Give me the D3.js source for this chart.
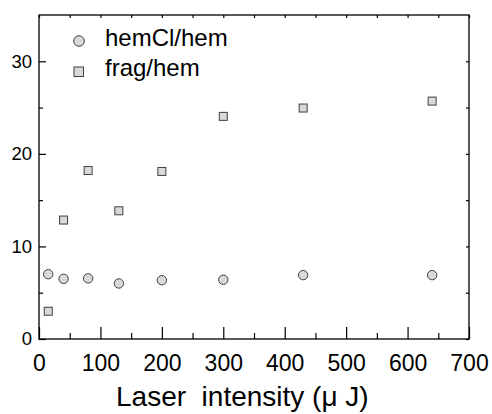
<!DOCTYPE html>
<html>
<head>
<meta charset="utf-8">
<script src="https://cdn.jsdelivr.net/npm/d3@7"></script>
<style>
  html, body { margin: 0; padding: 0; background: #fff; }
  svg { display: block; font-family: "Liberation Sans", Arial, sans-serif; }
  svg text { white-space: pre; }
</style>
</head>
<body>
<svg id="chart" width="492" height="414"></svg>
<script>
// ---- data ----
const intensity = [15, 40, 80, 130, 200, 300, 430, 640];
const hemClHem  = [7.0, 6.5, 6.55, 6.0, 6.35, 6.4, 6.9, 6.9];
const fragHem   = [3.0, 12.85, 18.2, 13.85, 18.1, 24.05, 24.95, 25.7];
const xTicks = [0, 100, 200, 300, 400, 500, 600, 700];
const xMinor = [50, 150, 250, 350, 450, 550, 650];
const yTicks = [0, 10, 20, 30];
const yMinor = [5, 15, 25];
const seriesNames = ["hemCl/hem", "frag/hem"];
const xTitle = "Laser  intensity (\u03BC J)";

// ---- layout ----
const FONT = "'Liberation Sans', Arial, sans-serif";
const L = 39, R = 469, T = 15, B = 339;
const svg = d3.select("#chart");
const x = d3.scaleLinear().domain([0, 700]).range([L, R]);
const y = d3.scaleLinear().domain([0, 35]).range([B, T]);

function styleAxis(g) {
  g.select(".domain").remove();
  g.selectAll(".tick line").attr("stroke", "#000").attr("stroke-width", 1.2);
}

// bottom major
svg.append("g").attr("transform", `translate(0,${B})`)
  .call(d3.axisBottom(x).tickValues(xTicks).tickSize(-12).tickPadding(16).tickFormat(d3.format("d")))
  .call(styleAxis)
  .call(g => g.selectAll("text").attr("font-size", 23).attr("fill", "#000").attr("font-family", FONT));
// bottom minor
svg.append("g").attr("transform", `translate(0,${B})`)
  .call(d3.axisBottom(x).tickValues(xMinor).tickSize(-6).tickFormat(""))
  .call(styleAxis);
// top mirror ticks
svg.append("g").attr("transform", `translate(0,${T})`)
  .call(d3.axisTop(x).tickValues(xTicks.concat(xMinor)).tickSize(-3).tickFormat(""))
  .call(styleAxis);
// left major
svg.append("g").attr("transform", `translate(${L},0)`)
  .call(d3.axisLeft(y).tickValues(yTicks).tickSize(-7).tickPadding(7).tickFormat(d3.format("d")))
  .call(styleAxis)
  .call(g => g.selectAll("text").attr("font-size", 18.5).attr("fill", "#000").attr("font-family", FONT));
// left minor
svg.append("g").attr("transform", `translate(${L},0)`)
  .call(d3.axisLeft(y).tickValues(yMinor).tickSize(-4).tickFormat(""))
  .call(styleAxis);
// right mirror ticks
svg.append("g").attr("transform", `translate(${R},0)`)
  .call(d3.axisRight(y).tickValues(yTicks.concat(yMinor)).tickSize(-3).tickFormat(""))
  .call(styleAxis);

// frame
svg.append("rect")
  .attr("x", L).attr("y", T).attr("width", R - L).attr("height", B - T)
  .attr("fill", "none").attr("stroke", "#000").attr("stroke-width", 1.3);

// x title
svg.append("text")
  .attr("x", 116).attr("y", 406)
  .attr("text-anchor", "start")
  .attr("font-size", 28)
  .attr("font-family", FONT)
  .attr("fill", "#000")
  .text(xTitle);

// ---- points ----
const fillC = "#d9d9d9", strokeC = "#404040";
svg.append("g").selectAll("circle")
  .data(intensity.map((d, i) => [d, hemClHem[i]]))
  .join("circle")
  .attr("cx", d => x(d[0])).attr("cy", d => y(d[1])).attr("r", 4.7)
  .attr("fill", fillC).attr("stroke", strokeC).attr("stroke-width", 1);

const sq = 8;
svg.append("g").selectAll("rect")
  .data(intensity.map((d, i) => [d, fragHem[i]]))
  .join("rect")
  .attr("x", d => x(d[0]) - sq / 2).attr("y", d => y(d[1]) - sq / 2)
  .attr("width", sq).attr("height", sq)
  .attr("fill", fillC).attr("stroke", strokeC).attr("stroke-width", 1);

// ---- legend ----
const lg = svg.append("g");
lg.append("circle").attr("cx", 79).attr("cy", 41).attr("r", 5.3)
  .attr("fill", fillC).attr("stroke", strokeC).attr("stroke-width", 1);
lg.append("rect").attr("x", 74).attr("y", 67).attr("width", 9.5).attr("height", 9.5)
  .attr("fill", fillC).attr("stroke", strokeC).attr("stroke-width", 1);
lg.append("text").attr("x", 105).attr("y", 46).attr("font-size", 24).attr("font-family", FONT).attr("fill", "#000").text(seriesNames[0]);
lg.append("text").attr("x", 105).attr("y", 76).attr("font-size", 24).attr("font-family", FONT).attr("fill", "#000").text(seriesNames[1]);
</script>
</body>
</html>
